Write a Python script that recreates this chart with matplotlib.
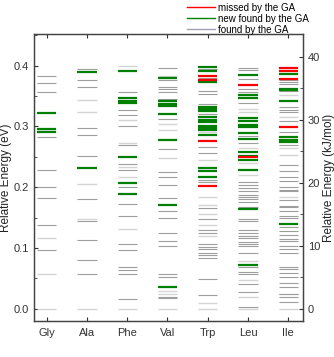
import matplotlib
matplotlib.use("Agg")
import matplotlib.pyplot as plt
from matplotlib.lines import Line2D
from matplotlib.ticker import MultipleLocator

plt.rcParams["font.family"] = ["Liberation Sans", "DejaVu Sans"]

EV_TO_KJ = 96.485

amino = ["Gly", "Ala", "Phe", "Val", "Trp", "Leu", "Ile"]

# conformer energies (eV) found by the GA, darker lines
found = {
    "Gly": [0.383, 0.371, 0.357, 0.283, 0.229, 0.201, 0.182, 0.137, 0.096],
    "Ala": [0.394, 0.376, 0.364, 0.297, 0.285, 0.252, 0.180, 0.144, 0.113,
            0.081, 0.058],
    "Phe": [0.357, 0.327, 0.318, 0.301, 0.269, 0.238, 0.229, 0.200, 0.172,
            0.152, 0.106, 0.096, 0.068, 0.063, 0.058, 0.016],
    "Val": [0.396, 0.376, 0.365, 0.361, 0.357, 0.345, 0.312, 0.280, 0.263,
            0.225, 0.216, 0.203, 0.182, 0.161, 0.150, 0.125, 0.111, 0.104,
            0.058, 0.052, 0.020, 0.017],
    "Trp": [0.395, 0.380, 0.358, 0.353, 0.336, 0.320, 0.266, 0.256, 0.212,
            0.209, 0.165, 0.147, 0.129, 0.124, 0.106, 0.102, 0.098, 0.092,
            0.088, 0.084, 0.049, 0.022],
    "Leu": [0.396, 0.392, 0.378, 0.362, 0.357, 0.338, 0.284, 0.272, 0.208,
            0.203, 0.199, 0.194, 0.187, 0.184, 0.180, 0.176, 0.167, 0.148,
            0.144, 0.129, 0.124, 0.119, 0.116, 0.110, 0.107, 0.104, 0.092,
            0.068, 0.060, 0.057, 0.041, 0.027, 0.003],
    "Ile": [0.376, 0.373, 0.370, 0.358, 0.331, 0.327, 0.323, 0.309, 0.290,
            0.269, 0.236, 0.227, 0.216, 0.210, 0.201, 0.195, 0.193, 0.179,
            0.169, 0.167, 0.160, 0.153, 0.150, 0.135, 0.128, 0.121, 0.114,
            0.112, 0.104, 0.098, 0.092, 0.069, 0.065, 0.059, 0.052, 0.043,
            0.035, 0.025, 0.024, 0.019, 0.011],
}

# found by the GA, drawn lighter
found_light = {
    "Gly": [0.296, 0.116, 0.058, 0.0],
    "Ala": [0.344, 0.323, 0.206, 0.148, 0.0],
    "Phe": [0.400, 0.311, 0.272, 0.233, 0.217, 0.131, 0.0],
    "Val": [0.382, 0.304, 0.294, 0.248, 0.029, 0.024, 0.0],
    "Trp": [0.290, 0.245, 0.184, 0.171, 0.156, 0.138, 0.119, 0.010, 0.0],
    "Leu": [0.329, 0.323, 0.265, 0.240, 0.220, 0.079, 0.047, 0.019, 0.0],
    "Ile": [0.351, 0.315, 0.264, 0.253, 0.184, 0.0],
}

new_found = {
    "Gly": [0.322, 0.296, 0.290],
    "Ala": [0.390, 0.231],
    "Phe": [0.391, 0.346, 0.342, 0.339, 0.250, 0.207, 0.188],
    "Val": [0.379, 0.341, 0.337, 0.334, 0.321, 0.278, 0.170, 0.036],
    "Trp": [0.397, 0.391, 0.373, 0.331, 0.328, 0.325, 0.315, 0.311, 0.307,
            0.301, 0.297, 0.294, 0.286, 0.232, 0.227, 0.216],
    "Leu": [0.385, 0.351, 0.347, 0.313, 0.308, 0.303, 0.299, 0.289, 0.280,
            0.257, 0.252, 0.245, 0.229, 0.164, 0.072],
    "Ile": [0.386, 0.362, 0.360, 0.342, 0.282, 0.278, 0.274, 0.139],
}

missed = {
    "Gly": [],
    "Ala": [],
    "Phe": [],
    "Val": [],
    "Trp": [0.383, 0.376, 0.276, 0.202],
    "Leu": [0.368, 0.250],
    "Ile": [0.396, 0.391, 0.378, 0.299],
}

fig = plt.figure(figsize=(3.34, 3.57), dpi=100)
ax = fig.add_axes([0.102, 0.101, 0.805, 0.804])

hw = 0.24
for i, name in enumerate(amino, start=1):
    ax.hlines(found_light[name], i - hw, i + hw, color="#d4d4d4", lw=1.0)
    ax.hlines(found[name], i - hw, i + hw, color="#9e9e9e", lw=0.8)
    ax.hlines(new_found[name], i - hw, i + hw, color="#008000", lw=1.6)
    ax.hlines(missed[name], i - hw, i + hw, color="#ff0000", lw=1.6)

ax.set_xlim(0.685, 7.365)
ax.set_ylim(-0.020, 0.452)
ax.set_xticks(range(1, len(amino) + 1))
ax.set_xticklabels(amino)
ax.yaxis.set_major_locator(MultipleLocator(0.1))
ax.yaxis.set_minor_locator(MultipleLocator(0.05))
ax.tick_params(axis="both", which="both", direction="in", top=True,
               labelsize=8, colors="#333333", length=3)
ax.tick_params(axis="y", which="minor", length=2)
ax.tick_params(axis="x", pad=5)
ax.set_ylabel("Relative Energy (eV)", fontsize=8.5, color="#222222",
              labelpad=1)

ax2 = ax.twinx()
ax2.set_ylim(-0.020 * EV_TO_KJ, 0.452 * EV_TO_KJ)
ax2.yaxis.set_major_locator(MultipleLocator(10))
ax2.yaxis.set_minor_locator(MultipleLocator(5))
ax2.tick_params(axis="y", which="both", direction="in", labelsize=8,
                colors="#333333", length=3)
ax2.tick_params(axis="y", which="minor", length=2)
ax2.set_ylabel("Relative Energy (kJ/mol)", fontsize=8.5, color="#222222",
               labelpad=2)

for a in (ax, ax2):
    for sp in a.spines.values():
        sp.set_color("#444444")
        sp.set_linewidth(0.9)

handles = [
    Line2D([], [], color="#ff0000", lw=1.0),
    Line2D([], [], color="#008000", lw=1.0),
    Line2D([], [], color="#a0a0b8", lw=1.0),
]
labels = ["missed by the GA", "new found by the GA", "found by the GA"]
fig.legend(handles, labels, loc="upper right", bbox_to_anchor=(0.945, 1.012),
           frameon=False, fontsize=7, handlelength=2.9, handletextpad=0.3,
           labelspacing=0.12, borderpad=0.2)

fig.savefig("out.png", dpi=100)
